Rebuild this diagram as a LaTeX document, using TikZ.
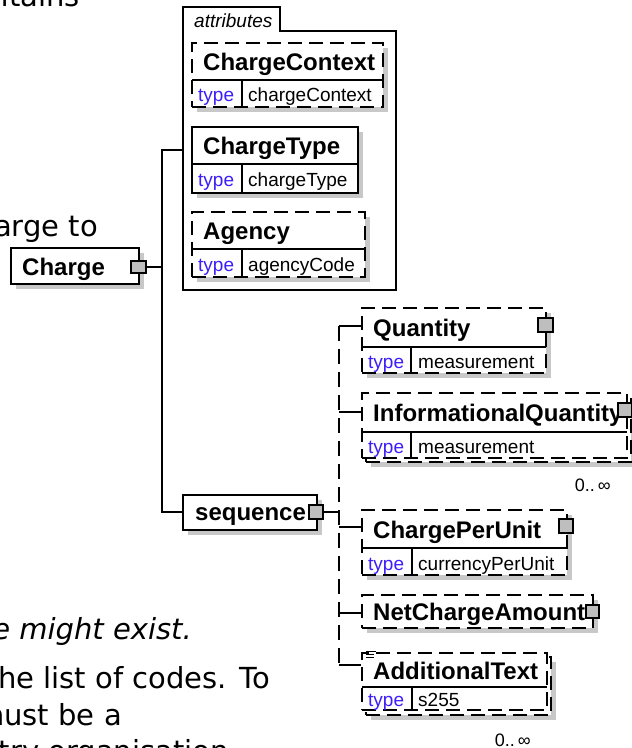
\documentclass[tikz,border=0pt]{standalone}
\usepackage{fontspec}
\setmainfont{Liberation Sans}
\newfontfamily\bgfont[ItalicFont={DejaVu Sans Oblique}]{DejaVu Sans}
\usetikzlibrary{fit}
\definecolor{typeblue}{RGB}{60,30,250}
\definecolor{shadowc}{RGB}{200,200,200}
\definecolor{sqfill}{RGB}{190,190,190}
\tikzset{
 bx/.style={draw, line width=1.3pt, fill=white, inner sep=0pt},
 optb/.style={dash pattern=on 14pt off 7pt},
 conn/.style={line width=1.3pt},
 optconn/.style={line width=1.3pt, dash pattern=on 15pt off 8pt},
 ename/.style={anchor=base west, inner sep=0pt, font=\bfseries\fontsize{24}{28}\selectfont},
 tlab/.style={anchor=base west, inner sep=0pt, font=\fontsize{19}{22}\selectfont, text=typeblue},
 tval/.style={anchor=base west, inner sep=0pt, font=\fontsize{19}{22}\selectfont},
 sqr/.style={draw, line width=1.2pt, fill=sqfill, inner sep=0pt},
 bgtext/.style={anchor=base east, inner sep=0pt, font=\bgfont\fontsize{29}{34}\selectfont},
 multlbl/.style={anchor=base east, inner sep=0pt, font=\fontsize{18}{20}\selectfont},
 divl/.style={line width=1.3pt},
}
\newcommand{\shbox}[6]{\fill[shadowc] ({#3+5},{#4+5}) rectangle ({#5+5},{#6+5});
 \node[bx, fit={(#3,#4)(#5,#6)}, #2] (#1) {};}
\newcommand{\xsq}[5]{\node[sqr, fit={(#2,#3)(#4,#5)}] (#1) {};}
\begin{document}
\begin{tikzpicture}[x=1pt,y=-1pt]
\useasboundingbox (0,0) rectangle (632,748);
\clip (0,0) rectangle (632,748);
\fill[white] (0,0) rectangle (632,748);

% background text
\node[bgtext] (t1) at (80,6) {ntains};
\node[bgtext] (t2) at (98,236) {arge to};
\node[bgtext, font=\bgfont\itshape\fontsize{29}{34}\selectfont] (t3) at (192,639) {e might exist.};
\node[bgtext] (t4) at (270,688) {he list of codes. To};
\node[bgtext] (t5) at (122,725) {must be a};
\node[bgtext] (t6) at (229,761) {try organisation};

% attributes group
\draw[conn, fill=white] (183,290) -- (183,7) -- (280,7) -- (280,31) -- (396,31) -- (396,290) -- cycle;
\node[fit={(183,7)(396,290)}, inner sep=0pt] (attrs) {};
\node[anchor=base west, inner sep=0pt, font=\itshape\fontsize{19}{22}\selectfont] (attrlbl) at (194,27) {attributes};

% ChargeContext
\shbox{cctx}{optb}{192}{43}{383}{107}
\draw[divl] (192,80) -- (383,80); \draw[divl] (242,80) -- (242,107);
\node[ename] (cctxN) at (203,70) {ChargeContext};
\node[tlab] (cctxT) at (198,101) {type};
\node[tval] (cctxV) at (248,101) {chargeContext};

% ChargeType
\shbox{ctyp}{}{192}{127}{358}{193}
\draw[divl] (192,164) -- (358,164); \draw[divl] (242,164) -- (242,193);
\node[ename] (ctypN) at (203,154) {ChargeType};
\node[tlab] (ctypT) at (198,186) {type};
\node[tval] (ctypV) at (248,186) {chargeType};

% Agency
\shbox{agcy}{optb}{192}{212}{365}{277}
\draw[divl] (192,249) -- (365,249); \draw[divl] (242,249) -- (242,277);
\node[ename] (agcyN) at (203,239) {Agency};
\node[tlab] (agcyT) at (198,271) {type};
\node[tval] (agcyV) at (248,271) {agencyCode};

% Charge
\shbox{chg}{}{11}{248}{139}{284}
\node[ename] (chgN) at (22,275) {Charge};
\xsq{chgSq}{131}{261}{146}{273}

% sequence
\shbox{seq}{}{183}{495}{317}{530}
\node[ename] (seqN) at (195,520) {sequence};
\xsq{seqSq}{309}{505}{323}{519}

% connectors from Charge
\coordinate (ja) at (162,150);
\coordinate (jb) at (162,512);
\draw[conn] (chgSq.east) -- (chgSq.east -| ja);
\draw[conn] (attrs.west |- ja) -- (ja) -- (jb) -- (seq.west |- jb);

% Quantity
\shbox{qty}{optb}{362}{308}{546}{373}
\draw[divl] (362,347) -- (546,347); \draw[divl] (411,347) -- (411,373);
\node[ename] (qtyN) at (373,336) {Quantity};
\node[tlab] (qtyT) at (368,368) {type};
\node[tval] (qtyV) at (418,368) {measurement};
\xsq{qtySq}{538}{318}{553}{332}

% InformationalQuantity (multiple)
\shbox{iqtyB}{optb}{366}{397}{631}{462}
\node[bx, optb, fit={(362,393)(627,458)}] (iqty) {};
\draw[divl] (362,432) -- (627,432); \draw[divl] (411,432) -- (411,458);
\node[ename] (iqtyN) at (373,421) {InformationalQuantity};
\node[tlab] (iqtyT) at (368,453) {type};
\node[tval] (iqtyV) at (418,453) {measurement};
\xsq{iqtySq}{618}{403}{632}{417}
\node[multlbl] (iqtyM) at (611,491) {0..\,∞};

% ChargePerUnit
\shbox{cpu}{optb}{362}{510}{567}{575}
\draw[divl] (362,548) -- (567,548); \draw[divl] (412,548) -- (412,575);
\node[ename] (cpuN) at (373,538) {ChargePerUnit};
\node[tlab] (cpuT) at (368,570) {type};
\node[tval] (cpuV) at (418,570) {currencyPerUnit};
\xsq{cpuSq}{559}{519}{573}{533}

% NetChargeAmount
\shbox{nca}{optb}{362}{595}{593}{628}
\node[ename] (ncaN) at (373,620) {NetChargeAmount};
\xsq{ncaSq}{586}{605}{599}{618}

% AdditionalText (multiple)
\shbox{addB}{optb}{366}{657}{551}{715}
\node[bx, optb, fit={(362,653)(547,710)}] (add) {};
\draw[divl] (362,687) -- (547,687); \draw[divl] (412,687) -- (412,710);
\node[ename] (addN) at (373,679) {AdditionalText};
\node[tlab] (addT) at (368,706) {type};
\node[tval] (addV) at (418,706) {s255};
\draw[line width=0.8pt] (366,651) -- (376,651) (366,654) -- (374,654) (366,657) -- (374,657);
\node[multlbl] (addM) at (531,746) {0..\,∞};

% sequence connectors
\coordinate (st) at (339,512);
\coordinate (c1) at (339,326);
\coordinate (c2) at (339,412);
\coordinate (c3) at (339,527);
\coordinate (c4) at (339,613);
\coordinate (c5) at (339,665);
\draw[conn] (seqSq.east) -- (st);
\draw[optconn] (c1) -- (c5);
\draw[conn] (c1) -- (qty.west |- c1);
\draw[conn] (c2) -- (iqty.west |- c2);
\draw[conn] (c3) -- (cpu.west |- c3);
\draw[conn] (c4) -- (nca.west |- c4);
\draw[conn] (c5) -- (add.west |- c5);
\end{tikzpicture}
\end{document}
